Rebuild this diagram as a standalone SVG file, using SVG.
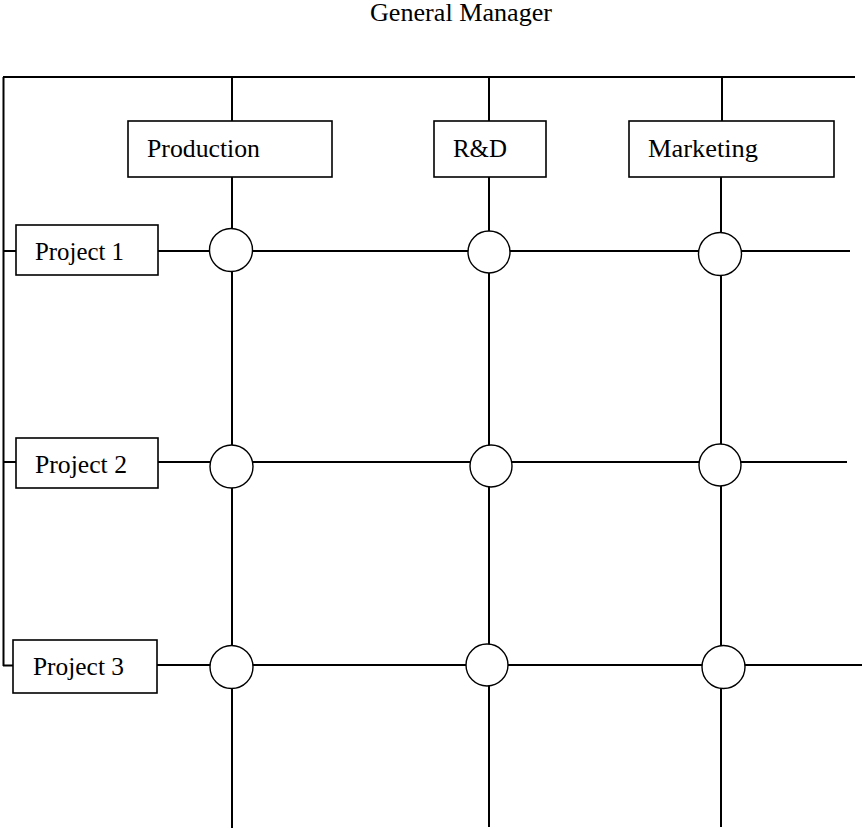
<svg xmlns="http://www.w3.org/2000/svg" width="863" height="832" viewBox="0 0 863 832">
<style>
.ln{stroke:#000;stroke-width:2;fill:none}
.bx{fill:#fff;stroke:#000;stroke-width:1.6}
.cr{fill:#fff;stroke:#000;stroke-width:1.4}
.tx{font-family:"Liberation Serif","Times New Roman",serif;font-size:25px;fill:#000}
</style>
<rect width="863" height="832" fill="#fff"/>
<g id="connectors">
<path class="ln" d="M3,77H855M3.5,77V666M3,251H16M3,462H16M3,665.5H13"/>
<path class="ln" d="M232,77V121M232,177V828M489,77V121M489,177V827M722,77V121M721,177V827"/>
<path class="ln" d="M158,251H850M158,462H847M157,665H862"/>
</g>
<g id="general-manager"><text class="tx" x="370" y="21" textLength="182" lengthAdjust="spacingAndGlyphs">General Manager</text></g>
<g id="production"><rect class="bx" x="128" y="121" width="204" height="56"/><text class="tx" x="147" y="157" textLength="113" lengthAdjust="spacingAndGlyphs">Production</text></g>
<g id="rd"><rect class="bx" x="434" y="121" width="112" height="56"/><text class="tx" x="453" y="157" textLength="54" lengthAdjust="spacingAndGlyphs">R&amp;D</text></g>
<g id="marketing"><rect class="bx" x="629" y="121" width="205" height="56"/><text class="tx" x="648" y="157" textLength="110" lengthAdjust="spacingAndGlyphs">Marketing</text></g>
<g id="project1"><rect class="bx" x="16" y="225" width="142" height="50"/><text class="tx" x="35" y="260" textLength="89" lengthAdjust="spacingAndGlyphs">Project 1</text></g>
<g id="project2"><rect class="bx" x="16" y="438" width="142" height="50"/><text class="tx" x="35" y="473" textLength="92" lengthAdjust="spacingAndGlyphs">Project 2</text></g>
<g id="project3"><rect class="bx" x="13" y="640" width="144" height="53"/><text class="tx" x="33" y="675" textLength="91" lengthAdjust="spacingAndGlyphs">Project 3</text></g>
<g id="c-p1-prod"><circle class="cr" cx="231" cy="250" r="21.5"/></g>
<g id="c-p1-rd"><circle class="cr" cx="489" cy="252" r="21"/></g>
<g id="c-p1-mkt"><circle class="cr" cx="720" cy="254" r="21.5"/></g>
<g id="c-p2-prod"><circle class="cr" cx="231.5" cy="466.5" r="21.5"/></g>
<g id="c-p2-rd"><circle class="cr" cx="491" cy="466" r="21"/></g>
<g id="c-p2-mkt"><circle class="cr" cx="720" cy="465" r="21"/></g>
<g id="c-p3-prod"><circle class="cr" cx="231.5" cy="667" r="21.5"/></g>
<g id="c-p3-rd"><circle class="cr" cx="487" cy="665" r="21"/></g>
<g id="c-p3-mkt"><circle class="cr" cx="723.5" cy="667" r="21.5"/></g>
</svg>
